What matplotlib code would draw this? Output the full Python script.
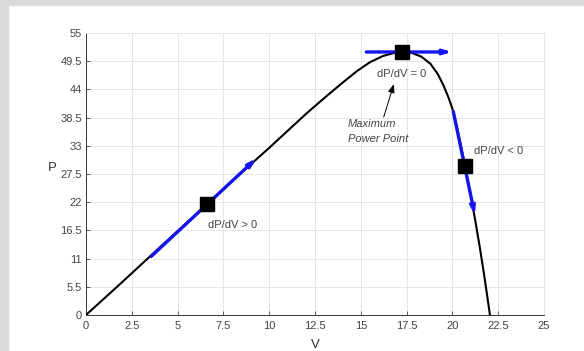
import matplotlib
matplotlib.use('Agg')
import matplotlib.pyplot as plt
from matplotlib.patches import Rectangle

plt.rcParams['font.family'] = ['Liberation Sans', 'DejaVu Sans']

# P-V curve of the module
volts = [0, 2, 4, 6, 8, 10, 12, 13, 14, 14.8, 15.5, 16.2, 16.8, 17.3, 17.8,
         18.3, 18.8, 19.2, 19.5, 19.8, 20.05, 20.4, 20.69, 21.0, 21.25, 21.5,
         21.75, 22.05]
power = [0, 6.5, 13.1, 19.6, 26.2, 32.6, 39.2, 42.3, 45.3, 47.6, 49.3, 50.5,
         51.1, 51.3, 51.1, 50.4, 49.0, 47.0, 44.9, 42.3, 39.7, 34.2, 29.1, 23.3,
         18.4, 13.1, 7.4, 0]

# operating points: left of MPP, at MPP, right of MPP
op_v = [6.62, 17.25, 20.69]
op_p = [21.65, 51.3, 29.1]

# direction arrows (start, end)
arrows = [((3.55, 11.4), (9.32, 30.6)),
          ((15.3, 51.3), (20.0, 51.3)),
          ((20.05, 39.65), (21.23, 19.4))]

xticks = [0, 2.5, 5, 7.5, 10, 12.5, 15, 17.5, 20, 22.5, 25]
yticks = [0, 5.5, 11, 16.5, 22, 27.5, 33, 38.5, 44, 49.5, 55]
xtick_labels = ['0', '2.5', '5', '7.5', '10', '12.5', '15', '17.5', '20', '22.5', '25']
ytick_labels = ['0', '5.5', '11', '16.5', '22', '27.5', '33', '38.5', '44', '49.5', '55']

fig = plt.figure(figsize=(5.84, 3.51), dpi=100)
fig.patches.append(Rectangle((0, 0), 8 / 584, 1, transform=fig.transFigure,
                             color='#dadada', zorder=0))
fig.patches.append(Rectangle((0, 1 - 5 / 351), 1, 5 / 351, transform=fig.transFigure,
                             color='#dadada', zorder=0))
ax = fig.add_axes([86 / 584, 1 - 315 / 351, 458 / 584, 282 / 351])

ax.plot(volts, power, color='black', lw=1.5, zorder=3)

for (x0, y0), (x1, y1) in arrows:
    ax.annotate('', xy=(x1, y1), xytext=(x0, y0),
                arrowprops=dict(arrowstyle='-|>,head_length=0.45,head_width=0.13',
                                color='#1414ee', lw=2.4, shrinkA=0, shrinkB=0),
                zorder=4)

ax.plot(op_v, op_p, 's', color='black', ms=10, zorder=5)

tc = '#444444'
fs = 8
ax.text(6.66, 17.6, 'dP/dV > 0', fontsize=fs, color=tc, va='center')
ax.text(17.25, 47.0, 'dP/dV = 0', fontsize=fs, color=tc, va='center', ha='center')
ax.text(21.2, 32.0, 'dP/dV < 0', fontsize=fs, color=tc, va='center')
ax.text(14.3, 37.3, 'Maximum', fontsize=fs, color=tc, va='center', style='italic')
ax.text(14.3, 34.3, 'Power Point', fontsize=fs, color=tc, va='center', style='italic')
ax.annotate('', xy=(16.8, 45.0), xytext=(16.25, 38.6),
            arrowprops=dict(arrowstyle='-|>,head_length=0.5,head_width=0.2',
                            color='black', lw=0.7, shrinkA=0, shrinkB=0))

ax.set_xlim(0, 25)
ax.set_ylim(0, 55)
ax.set_xticks(xticks)
ax.set_xticklabels(xtick_labels)
ax.set_yticks(yticks)
ax.set_yticklabels(ytick_labels)
ax.tick_params(direction='in', length=3, width=0.6, labelsize=fs,
               colors='#444444', pad=4)
ax.tick_params(axis='y', pad=3)
ax.grid(True, color='#e6e6e6', lw=0.7)
ax.set_axisbelow(True)
for side in ['top', 'right']:
    ax.spines[side].set_color('#e6e6e6')
    ax.spines[side].set_linewidth(0.7)
for side in ['left', 'bottom']:
    ax.spines[side].set_color('#333333')
    ax.spines[side].set_linewidth(0.7)

ax.set_xlabel('V', fontsize=9.5, color='#333333', labelpad=6)
ax.set_ylabel('P', fontsize=9.5, color='#333333', rotation=0, labelpad=6)

fig.savefig('out.png', dpi=100)
